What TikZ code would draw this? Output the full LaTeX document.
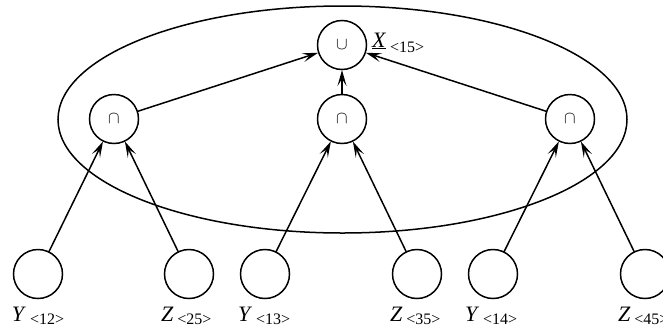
\documentclass[tikz,border=0pt]{standalone}
\usepackage{fontspec}
\setmainfont{Liberation Serif}
\usetikzlibrary{arrows.meta}
\begin{document}
\begin{tikzpicture}[x=1pt,y=-1pt,
  every node/.style={inner sep=0pt,outer sep=0pt},
  gate/.style={circle,draw,line width=1.5pt,minimum size=49pt,font=\fontsize{16}{16}\selectfont},
  leaf/.style={circle,draw,line width=1.5pt,minimum size=49pt},
  conn/.style={line width=1.5pt,-{Stealth[length=16pt,width=9pt,inset=7pt]},shorten >=0.5pt},
  lbl/.style={anchor=base west,font=\fontsize{22}{22}\selectfont},
]
\useasboundingbox (0,0) rectangle (663,327);
\newcommand{\lab}[2]{\textit{#1}\hspace{4pt}\raisebox{-3pt}{\fontsize{16}{16}\selectfont #2}}
\draw[line width=1.5pt] (342.5,119.5) ellipse [x radius=284.5pt, y radius=113.5pt];

\node[gate] (u) at (342,45) {$\cup$};
\node[gate] (i1) at (114,119) {$\cap$};
\node[gate] (i2) at (342,119) {$\cap$};
\node[gate] (i3) at (570,119) {$\cap$};

\node[leaf] (y12) at (38,274) {};
\node[leaf] (z25) at (189,274) {};
\node[leaf] (y13) at (265,274) {};
\node[leaf] (z35) at (417,274) {};
\node[leaf] (y14) at (493,274) {};
\node[leaf] (z45) at (645,274) {};

\node[lbl] (ly12) at (12,321) {\lab{Y}{<12>}};
\node[lbl] (lz25) at (161,321) {\lab{Z}{<25>}};
\node[lbl] (ly13) at (238,321) {\lab{Y}{<13>}};
\node[lbl] (lz35) at (390,321) {\lab{Z}{<35>}};
\node[lbl] (ly14) at (465,321) {\lab{Y}{<14>}};
\node[lbl] (lz45) at (618,321) {\lab{Z}{<45>}};
\node[lbl] (lx) at (372,47) {\underline{\textit{X}}\hspace{4pt}\raisebox{-5pt}{\fontsize{16}{16}\selectfont <15>}};

\draw[conn] (i1) -- (u);
\draw[conn] (i2) -- (u);
\draw[conn] (i3) -- (u);
\draw[conn] (y12) -- (i1);
\draw[conn] (z25) -- (i1);
\draw[conn] (y13) -- (i2);
\draw[conn] (z35) -- (i2);
\draw[conn] (y14) -- (i3);
\draw[conn] (z45) -- (i3);
\end{tikzpicture}
\end{document}
